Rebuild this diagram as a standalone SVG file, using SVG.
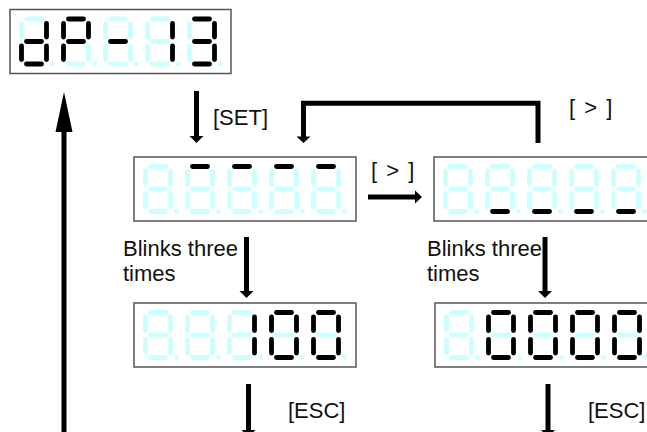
<svg xmlns="http://www.w3.org/2000/svg" width="647" height="432" viewBox="0 0 647 432">
<style>
.box{fill:#fff;stroke:#555;stroke-width:1.5}
.lbl{font-family:"Liberation Sans",Arial,sans-serif;font-size:22px;fill:#111}
.wide{word-spacing:3px}
.on{stroke:#000;fill:#000}
.conn{stroke:#000;fill:none;stroke-width:5}
.head{fill:#000;stroke:none}
</style>
<defs>
<line id="sa" x1="7.5" y1="2.5" x2="22.5" y2="2.5" stroke-width="4.8" stroke-linecap="round"/>
<line id="sb" x1="27.5" y1="7" x2="27.5" y2="20.5" stroke-width="4.8" stroke-linecap="round"/>
<line id="sc" x1="27.5" y1="29.5" x2="27.5" y2="43" stroke-width="4.8" stroke-linecap="round"/>
<line id="sd" x1="7.5" y1="47.5" x2="22.5" y2="47.5" stroke-width="4.8" stroke-linecap="round"/>
<line id="se" x1="2.5" y1="29.5" x2="2.5" y2="43" stroke-width="4.8" stroke-linecap="round"/>
<line id="sf" x1="2.5" y1="7" x2="2.5" y2="20.5" stroke-width="4.8" stroke-linecap="round"/>
<line id="sg" x1="7.5" y1="25" x2="22.5" y2="25" stroke-width="4.8" stroke-linecap="round"/>
<g id="d8" stroke="#ccffff" fill="#ccffff">
<use href="#sa"/><use href="#sb"/><use href="#sc"/><use href="#sd"/><use href="#se"/><use href="#sf"/><use href="#sg"/>
<circle cx="33.5" cy="47.5" r="2.4" stroke="none"/>
</g>
</defs>

<g id="disp-dp13">
<rect class="box" x="10" y="9.5" width="221" height="64"/>
<g transform="translate(19,16.5)"><use href="#d8"/><use href="#sb" class="on"/><use href="#sc" class="on"/><use href="#sd" class="on"/><use href="#se" class="on"/><use href="#sg" class="on"/></g>
<g transform="translate(61,16.5)"><use href="#d8"/><use href="#sa" class="on"/><use href="#sb" class="on"/><use href="#sf" class="on"/><use href="#sg" class="on"/><use href="#se" class="on"/></g>
<g transform="translate(103,16.5)"><use href="#d8"/><use href="#sg" class="on"/></g>
<g transform="translate(145,16.5)"><use href="#d8"/><use href="#sb" class="on"/><use href="#sc" class="on"/></g>
<g transform="translate(187,16.5)"><use href="#d8"/><use href="#sa" class="on"/><use href="#sb" class="on"/><use href="#sc" class="on"/><use href="#sd" class="on"/><use href="#sg" class="on"/></g>
</g>

<g id="disp-upper">
<rect class="box" x="134" y="157" width="222" height="64"/>
<g transform="translate(143,164)"><use href="#d8"/></g>
<g transform="translate(185,164)"><use href="#d8"/><use href="#sa" class="on"/></g>
<g transform="translate(227,164)"><use href="#d8"/><use href="#sa" class="on"/></g>
<g transform="translate(269,164)"><use href="#d8"/><use href="#sa" class="on"/></g>
<g transform="translate(311,164)"><use href="#d8"/><use href="#sa" class="on"/></g>
</g>

<g id="disp-lower">
<rect class="box" x="434" y="157" width="222" height="64"/>
<g transform="translate(443,164)"><use href="#d8"/></g>
<g transform="translate(485,164)"><use href="#d8"/><use href="#sd" class="on"/></g>
<g transform="translate(527,164)"><use href="#d8"/><use href="#sd" class="on"/></g>
<g transform="translate(569,164)"><use href="#d8"/><use href="#sd" class="on"/></g>
<g transform="translate(611,164)"><use href="#d8"/><use href="#sd" class="on"/></g>
</g>

<g id="disp-100">
<rect class="box" x="134" y="303" width="222" height="64"/>
<g transform="translate(143,310)"><use href="#d8"/></g>
<g transform="translate(185,310)"><use href="#d8"/></g>
<g transform="translate(227,310)"><use href="#d8"/><use href="#sb" class="on"/><use href="#sc" class="on"/></g>
<g transform="translate(269,310)"><use href="#d8"/><use href="#sa" class="on"/><use href="#sb" class="on"/><use href="#sc" class="on"/><use href="#sd" class="on"/><use href="#se" class="on"/><use href="#sf" class="on"/></g>
<g transform="translate(311,310)"><use href="#d8"/><use href="#sa" class="on"/><use href="#sb" class="on"/><use href="#sc" class="on"/><use href="#sd" class="on"/><use href="#se" class="on"/><use href="#sf" class="on"/></g>
</g>

<g id="disp-0000">
<rect class="box" x="435" y="303" width="222" height="64"/>
<g transform="translate(444,310)"><use href="#d8"/></g>
<g transform="translate(486,310)"><use href="#d8"/><use href="#sa" class="on"/><use href="#sb" class="on"/><use href="#sc" class="on"/><use href="#sd" class="on"/><use href="#se" class="on"/><use href="#sf" class="on"/></g>
<g transform="translate(528,310)"><use href="#d8"/><use href="#sa" class="on"/><use href="#sb" class="on"/><use href="#sc" class="on"/><use href="#sd" class="on"/><use href="#se" class="on"/><use href="#sf" class="on"/></g>
<g transform="translate(570,310)"><use href="#d8"/><use href="#sa" class="on"/><use href="#sb" class="on"/><use href="#sc" class="on"/><use href="#sd" class="on"/><use href="#se" class="on"/><use href="#sf" class="on"/></g>
<g transform="translate(612,310)"><use href="#d8"/><use href="#sa" class="on"/><use href="#sb" class="on"/><use href="#sc" class="on"/><use href="#sd" class="on"/><use href="#se" class="on"/><use href="#sf" class="on"/></g>
</g>

<g id="connectors">
<!-- return arrow up -->
<line class="conn" x1="64" y1="440" x2="64" y2="130"/>
<polygon class="head" points="64,92 55.5,132 72.5,132"/>
<!-- SET -->
<line class="conn" x1="196.5" y1="91" x2="196.5" y2="137" stroke-width="4.6"/>
<polygon class="head" points="189.5,136 203.5,136 196.5,143"/>
<!-- [>] bracket back -->
<path class="conn" d="M538,143 V103.3 H303.5 V137" stroke-width="5.4" stroke-linejoin="miter"/>
<polygon class="head" points="296.5,136.5 310.5,136.5 303.5,143"/>
<!-- [>] right -->
<line class="conn" x1="368" y1="197" x2="416" y2="197"/>
<polygon class="head" points="415,190.5 415,203.5 422,197"/>
<!-- blink arrows -->
<line class="conn" x1="246.5" y1="237" x2="246.5" y2="292" stroke-width="4.8"/>
<polygon class="head" points="239.5,291 253.5,291 246.5,298"/>
<line class="conn" x1="545" y1="237" x2="545" y2="292" stroke-width="4.8"/>
<polygon class="head" points="538,291 552,291 545,298"/>
<!-- ESC arrows -->
<line class="conn" x1="248.5" y1="384" x2="248.5" y2="431" stroke-width="4.8"/>
<polygon class="head" points="241.5,430 255.5,430 248.5,437"/>
<line class="conn" x1="548" y1="384" x2="548" y2="431" stroke-width="4.8"/>
<polygon class="head" points="541,430 555,430 548,437"/>
</g>

<g id="labels">
<text class="lbl" x="213" y="125">[SET]</text>
<text class="lbl wide" x="569" y="115">[ &gt; ]</text>
<text class="lbl wide" x="371" y="178">[ &gt; ]</text>
<text class="lbl" x="123" y="256">Blinks three</text>
<text class="lbl" x="123" y="281">times</text>
<text class="lbl" x="427" y="256">Blinks three</text>
<text class="lbl" x="427" y="281">times</text>
<text class="lbl" x="288" y="418">[ESC]</text>
<text class="lbl" x="588" y="418">[ESC]</text>
</g>
</svg>
